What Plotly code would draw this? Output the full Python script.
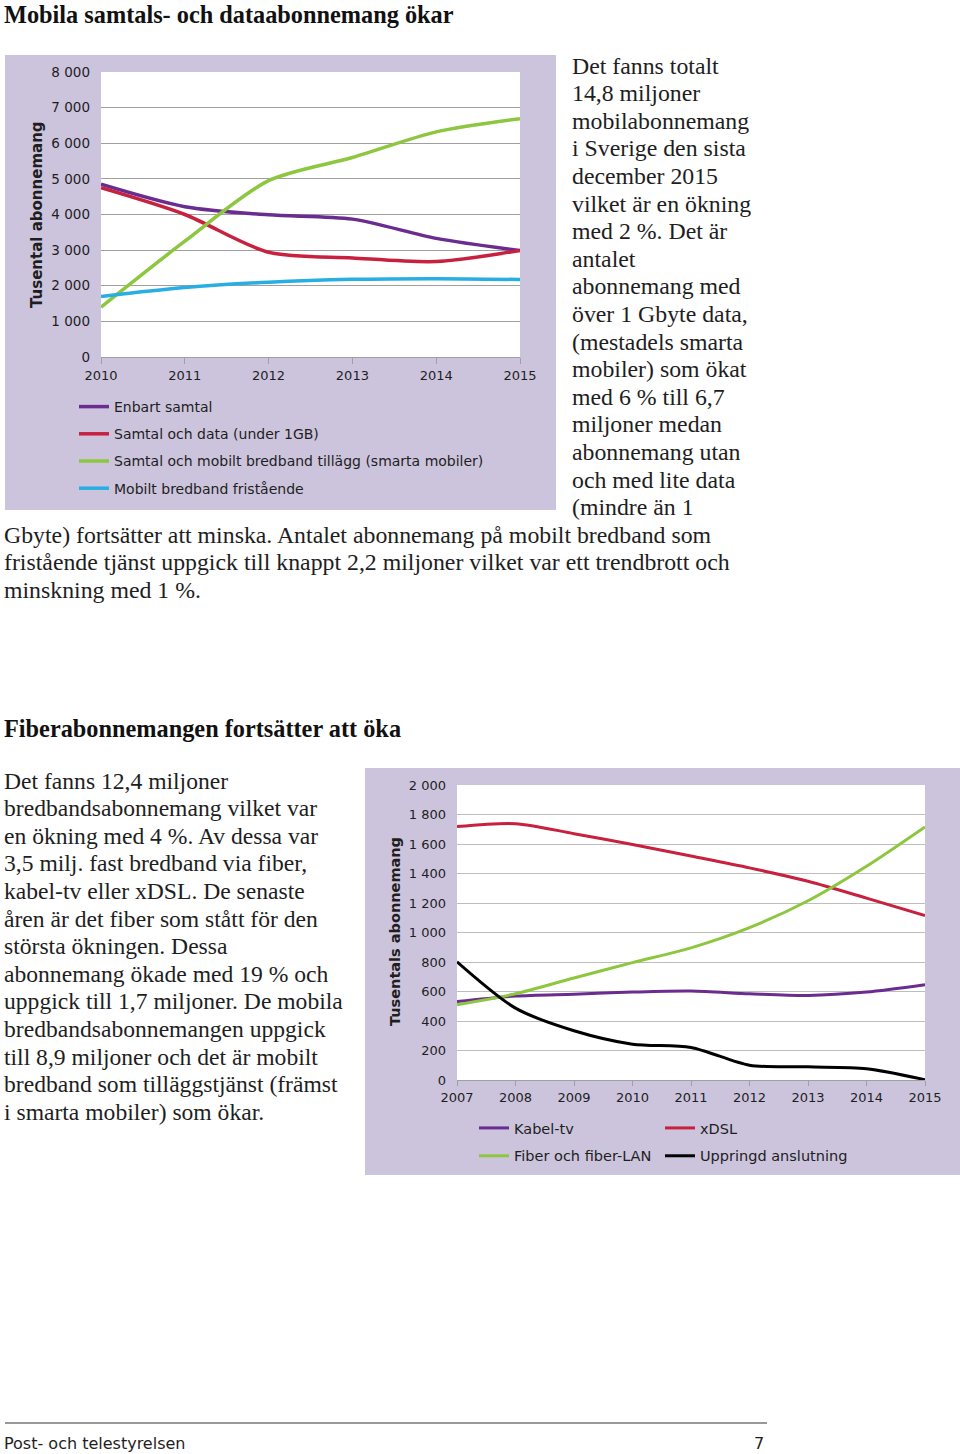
import plotly.graph_objects as go

# ---------------- data ----------------
years1 = [2010, 2011, 2012, 2013, 2014, 2015]
enbart_samtal = [4850, 4220, 3990, 3870, 3330, 2990]
samtal_data = [4750, 4000, 2940, 2780, 2680, 2990]
smarta_mobiler = [1400, 3250, 4950, 5600, 6320, 6690]
mobilt_fristaende = [1700, 1950, 2100, 2180, 2200, 2175]
names1 = ["Enbart samtal", "Samtal och data (under 1GB)",
          "Samtal och mobilt bredband tillägg (smarta mobiler)",
          "Mobilt bredband fristående"]

years2 = [2007, 2008, 2009, 2010, 2011, 2012, 2013, 2014, 2015]
kabel_tv = [532, 569, 582, 596, 603, 585, 573, 596, 646]
xdsl = [1718, 1738, 1670, 1597, 1518, 1438, 1347, 1233, 1115]
fiber = [510, 585, 692, 796, 896, 1033, 1215, 1449, 1716]
uppringd = [801, 487, 334, 243, 221, 100, 89, 77, 2]
names2 = ["Kabel-tv", "xDSL", "Fiber och fiber-LAN", "Uppringd anslutning"]

title1 = "Mobila samtals- och dataabonnemang ökar"
title2 = "Fiberabonnemangen fortsätter att öka"
ytitle1 = "Tusental abonnemang"
ytitle2 = "Tusentals abonnemang"

text1 = ["Det fanns totalt", "14,8 miljoner", "mobilabonnemang", "i Sverige den sista",
         "december 2015", "vilket är en ökning", "med 2 %. Det är", "antalet",
         "abonnemang med", "över 1 Gbyte data,", "(mestadels smarta", "mobiler) som ökat",
         "med 6 % till 6,7", "miljoner medan", "abonnemang utan", "och med lite data",
         "(mindre än 1",
         "Gbyte) fortsätter att minska. Antalet abonnemang på mobilt bredband som",
         "fristående tjänst uppgick till knappt 2,2 miljoner vilket var ett trendbrott och",
         "minskning med 1 %."]
text2 = ["Det fanns 12,4 miljoner", "bredbandsabonnemang vilket var",
         "en ökning med 4 %. Av dessa var", "3,5 milj. fast bredband via fiber,",
         "kabel-tv eller xDSL. De senaste", "åren är det fiber som stått för den",
         "största ökningen. Dessa", "abonnemang ökade med 19 % och",
         "uppgick till 1,7 miljoner. De mobila", "bredbandsabonnemangen uppgick",
         "till 8,9 miljoner och det är mobilt", "bredband som tilläggstjänst (främst",
         "i smarta mobiler) som ökar."]
footer_left = "Post- och telestyrelsen"
footer_right = "7"

# ---------------- page geometry ----------------
W, H = 960, 1454
def px(x):
    return x / W
def py(y):
    return 1 - y / H

PURPLE = "#6A2C8F"
RED = "#C8203F"
GREEN = "#8DC63F"
BLUE = "#29AEE3"
BLACK = "#000000"
PANEL = "#CCC4DD"
GRID = "#A0A0A0"
TXT = "#1E1E1E"
SANS = "DejaVu Sans"
SERIF = "Liberation Serif"

fig = go.Figure()

series1 = [enbart_samtal, samtal_data, smarta_mobiler, mobilt_fristaende]
colors1 = [PURPLE, RED, GREEN, BLUE]
for i, (vals, nm, c) in enumerate(zip(series1, names1, colors1)):
    fig.add_trace(go.Scatter(x=years1, y=vals, name=nm, mode="lines",
                             line=dict(color=c, width=3.5, shape="spline", smoothing=0.8),
                             xaxis="x", yaxis="y", legend="legend",
                             legendgroup="a%d" % i, hoverinfo="skip"))

series2 = [kabel_tv, xdsl, fiber, uppringd]
colors2 = [PURPLE, RED, GREEN, BLACK]
legs2 = ["legend2", "legend3", "legend2", "legend3"]
for i, (vals, nm, c, lg) in enumerate(zip(series2, names2, colors2, legs2)):
    fig.add_trace(go.Scatter(x=years2, y=vals, name=nm, mode="lines",
                             line=dict(color=c, width=3, shape="spline", smoothing=0.8),
                             xaxis="x2", yaxis="y2", legend=lg,
                             legendgroup="b%d" % i, hoverinfo="skip"))

fig.update_layout(
    template="none",
    width=W, height=H,
    margin=dict(l=0, r=0, t=0, b=0, pad=0, autoexpand=False),
    paper_bgcolor="white", plot_bgcolor="white",
    separators=", ",
    showlegend=True,
    xaxis=dict(domain=[px(101), px(520)], range=[2010, 2015], anchor="y",
               tickvals=years1, showgrid=False, showline=True, linecolor=GRID,
               ticks="outside", ticklen=6, tickcolor=GRID, automargin=False,
               tickfont=dict(family=SANS, size=13, color=TXT), zeroline=False,
               fixedrange=True),
    yaxis=dict(domain=[py(357), py(72)], range=[0, 8000], anchor="x",
               dtick=1000, tickformat=",d", showgrid=True, gridcolor=GRID,
               gridwidth=1, ticks="", ticklabelstandoff=10, automargin=False,
               tickfont=dict(family=SANS, size=13.5, color=TXT), zeroline=False,
               showline=False, fixedrange=True),
    xaxis2=dict(domain=[px(457), px(925)], range=[2007, 2015], anchor="y2",
                tickvals=years2, showgrid=False, showline=True, linecolor=GRID,
                ticks="outside", ticklen=5, tickcolor=GRID, automargin=False,
                tickfont=dict(family=SANS, size=13, color=TXT), zeroline=False,
                fixedrange=True),
    yaxis2=dict(domain=[py(1080), py(785)], range=[0, 2000], anchor="x2",
                dtick=200, tickformat=",d", showgrid=True, gridcolor="#BDBDBD",
                gridwidth=1, ticks="", ticklabelstandoff=10, automargin=False,
                tickfont=dict(family=SANS, size=13, color=TXT), zeroline=False,
                showline=False, fixedrange=True),
    legend=dict(x=px(74), y=py(391), xanchor="left", yanchor="top",
                bgcolor="rgba(0,0,0,0)", borderwidth=0,
                font=dict(family=SANS, size=14, color=TXT),
                traceorder="grouped", tracegroupgap=6, itemwidth=30),
    legend2=dict(x=px(474), y=py(1112), xanchor="left", yanchor="top",
                 bgcolor="rgba(0,0,0,0)", borderwidth=0,
                 font=dict(family=SANS, size=14.5, color=TXT),
                 traceorder="grouped", tracegroupgap=6, itemwidth=30),
    legend3=dict(x=px(660), y=py(1112), xanchor="left", yanchor="top",
                 bgcolor="rgba(0,0,0,0)", borderwidth=0,
                 font=dict(family=SANS, size=14.5, color=TXT),
                 traceorder="grouped", tracegroupgap=6, itemwidth=30),
)

shapes = [
    dict(type="rect", xref="paper", yref="paper", x0=px(5), x1=px(556), y0=py(510), y1=py(55),
         fillcolor=PANEL, line=dict(width=0), layer="below"),
    dict(type="rect", xref="x domain", yref="y domain", x0=0, x1=1, y0=0, y1=1,
         fillcolor="white", line=dict(width=0), layer="below"),
    dict(type="rect", xref="paper", yref="paper", x0=px(365), x1=px(960), y0=py(1175), y1=py(768),
         fillcolor=PANEL, line=dict(width=0), layer="below"),
    dict(type="rect", xref="x2 domain", yref="y2 domain", x0=0, x1=1, y0=0, y1=1,
         fillcolor="white", line=dict(width=0), layer="below"),
    dict(type="line", xref="paper", yref="paper", x0=px(5), x1=px(767), y0=py(1423), y1=py(1423),
         line=dict(color="#333333", width=1)),
]
fig.update_layout(shapes=shapes)

ann = []
def add_text(t, x, y, size, family=SERIF, bold=False, xanchor="left", angle=0, color=TXT):
    ann.append(dict(text=("<b>%s</b>" % t) if bold else t, x=px(x), y=py(y),
                    xref="paper", yref="paper", xanchor=xanchor, yanchor="middle",
                    showarrow=False, textangle=angle, borderpad=0, borderwidth=0,
                    font=dict(family=family, size=size, color=color)))

add_text(title1, 4, 14, 24.3, bold=True, color="#111111")
add_text(title2, 4, 728, 24.3, bold=True, color="#111111")
for i, line in enumerate(text1):
    x = 572 if i < 17 else 4
    add_text(line, x, 65.5 + i * 27.6, 23.8)
for i, line in enumerate(text2):
    add_text(line, 4, 780.5 + i * 27.6, 23.6)
add_text(ytitle1, 37, 215, 15, family=SANS, bold=True, xanchor="center", angle=-90)
add_text(ytitle2, 395, 932, 14.5, family=SANS, bold=True, xanchor="center", angle=-90)
add_text(footer_left, 4, 1443, 16, family=SANS)
add_text(footer_right, 764, 1443, 16, family=SANS, xanchor="right")
fig.update_layout(annotations=ann)

fig.write_html("out.html", config={"displayModeBar": False},
               post_script="document.body.style.margin='0';")
